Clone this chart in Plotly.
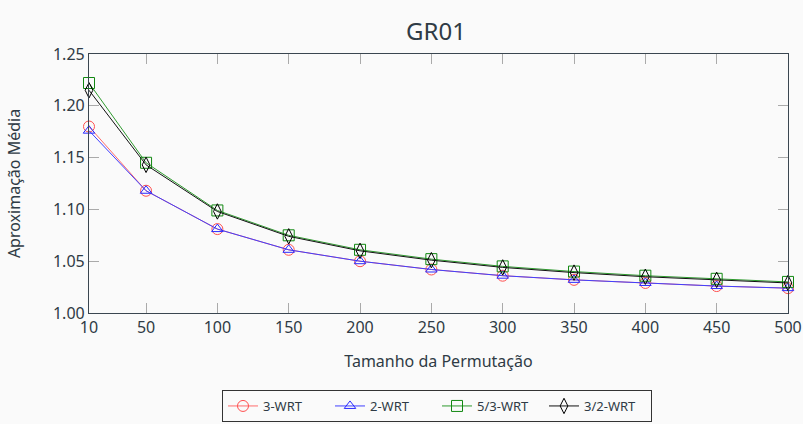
import plotly.graph_objects as go

sizes = [10, 50, 100, 150, 200, 250, 300, 350, 400, 450, 500]
wrt3 = [1.180, 1.118, 1.081, 1.061, 1.050, 1.042, 1.036, 1.032, 1.029, 1.026, 1.024]
wrt2 = [1.176, 1.118, 1.081, 1.061, 1.050, 1.042, 1.036, 1.032, 1.029, 1.026, 1.024]
wrt53 = [1.222, 1.145, 1.099, 1.075, 1.061, 1.052, 1.045, 1.040, 1.036, 1.033, 1.030]
wrt32 = [1.215, 1.143, 1.098, 1.074, 1.060, 1.051, 1.044, 1.039, 1.035, 1.032, 1.029]

series = [
    ("3-WRT", wrt3, "#ff6b6b", "#ff5050", "circle-open", 11),
    ("2-WRT", wrt2, "#4040ff", "#2a2aff", "triangle-up-open", 10),
    ("5/3-WRT", wrt53, "#2e9a2e", "#118811", "square-open", 11),
    ("3/2-WRT", wrt32, "#111111", "#000000", "diamond-tall-open", 11),
]

TXT = "#2f3b45"
FONT = "Noto Sans"

fig = go.Figure()
for name, ys, lc, mc, sym, ms in series:
    fig.add_trace(go.Scatter(
        x=sizes, y=ys, name=name, mode="lines+markers",
        line=dict(color=lc, width=1),
        marker=dict(symbol=sym, size=ms, color=mc, line=dict(width=1, color=mc)),
        cliponaxis=False,
    ))

axis_common = dict(
    showgrid=False, zeroline=False, showline=True, linecolor="#3a4650",
    linewidth=1.2, mirror="ticks", ticks="inside", ticklen=10,
    tickcolor="#aaaaaa", tickwidth=1, automargin=False,
    tickfont=dict(family=FONT, size=16, color=TXT),
)

fig.update_layout(
    width=803, height=424,
    margin=dict(l=89, r=15, t=54, b=111),
    paper_bgcolor="#fafafa", plot_bgcolor="#fafafa",
    title=dict(text="GR01", x=0.543, xanchor="center", y=1 - 32 / 424, yanchor="middle",
               font=dict(family=FONT, size=24, color=TXT)),
    xaxis=dict(range=[10, 500], tickvals=sizes,
               title=dict(text="Tamanho da Permutação", font=dict(family=FONT, size=16, color=TXT), standoff=18),
               **axis_common),
    yaxis=dict(range=[1.0, 1.25], tickvals=[1.0, 1.05, 1.10, 1.15, 1.20, 1.25], tickformat=".2f",
               title=dict(text="Aproximação Média", font=dict(family=FONT, size=16, color=TXT), standoff=28),
               **axis_common),
    legend=dict(orientation="h", x=437 / 803, xanchor="center", xref="container",
                y=(424 - 390) / 424, yanchor="top", yref="container",
                bordercolor="#333", borderwidth=1, bgcolor="#fafafa",
                entrywidth=62, entrywidthmode="pixels",
                font=dict(family=FONT, size=13, color=TXT)),
    showlegend=True,
)

fig.write_html("out.html")
